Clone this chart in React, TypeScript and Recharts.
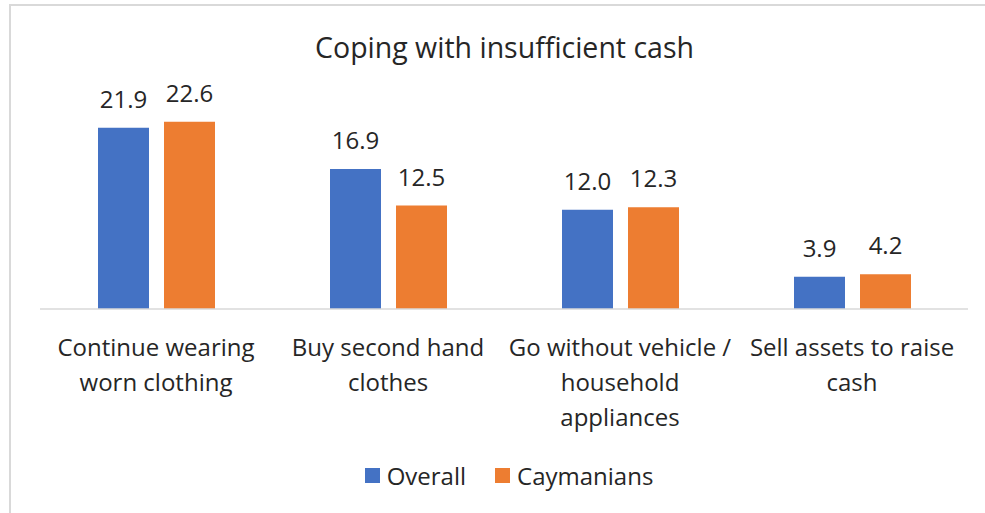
import React from 'react';
import { BarChart, Bar, XAxis, YAxis, Legend, LabelList } from 'recharts';

const title = 'Coping with insufficient cash';
const categories = [
  'Continue wearing worn clothing',
  'Buy second hand clothes',
  'Go without vehicle / household appliances',
  'Sell assets to raise cash',
];
const tickLines: string[][] = [
  ['Continue wearing', 'worn clothing'],
  ['Buy second hand', 'clothes'],
  ['Go without vehicle /', 'household', 'appliances'],
  ['Sell assets to raise', 'cash'],
];
const seriesNames = ['Overall', 'Caymanians'];
const overall = [21.9, 16.9, 12.0, 3.9];
const caymanians = [22.6, 12.5, 12.3, 4.2];

const COLORS = ['#4472C4', '#ED7D31'];
const FONT = '"Open Sans", Lato, sans-serif';
const TEXT = '#262626';

const data = categories.map((c, i) => ({
  name: c,
  overall: overall[i],
  caymanians: caymanians[i],
}));

const CategoryTick = (props: any) => {
  const { x, y, index } = props;
  const lines = tickLines[index] || [categories[index]];
  return (
    <g>
      {lines.map((l, k) => (
        <text
          key={k}
          x={x}
          y={y + 47 + k * 35}
          textAnchor="middle"
          fontFamily={FONT}
          fontSize={24}
          fill={TEXT}
        >
          {l}
        </text>
      ))}
    </g>
  );
};

const LegendContent = () => (
  <div
    style={{
      display: 'flex',
      justifyContent: 'center',
      alignItems: 'center',
      height: 40,
      fontFamily: FONT,
      fontSize: 24,
      color: TEXT,
      paddingLeft: 10,
    }}
  >
    {seriesNames.map((n, i) => (
      <div key={n} style={{ display: 'flex', alignItems: 'center', marginRight: i === 0 ? 29 : 0 }}>
        <span style={{ width: 15, height: 15, background: COLORS[i], display: 'inline-block', marginRight: 7 }} />
        <span>{n}</span>
      </div>
    ))}
  </div>
);

export default function App() {
  return (
    <div style={{ position: 'absolute', left: 0, top: 0, width: 985, height: 513, background: '#fff' }}>
      <div
        style={{
          position: 'absolute',
          left: 9,
          top: 4,
          width: 976,
          height: 509,
          borderTop: '2px solid #d9d9d9',
          borderLeft: '2px solid #d9d9d9',
          boxSizing: 'border-box',
        }}
      />
      <div
        style={{
          position: 'absolute',
          left: 0,
          width: 1009,
          top: 30,
          textAlign: 'center',
          fontFamily: FONT,
          fontSize: 28.5,
          color: TEXT,
          lineHeight: '34px',
          whiteSpace: 'nowrap',
        }}
      >
        {title}
      </div>
      <div style={{ position: 'absolute', left: 0, top: 0 }}>
        <BarChart
          width={985}
          height={513}
          data={data}
          margin={{ top: 102, right: 17, left: 40, bottom: 18 }}
          barSize={51}
          barGap={15}
        >
          <XAxis
            dataKey="name"
            axisLine={{ stroke: '#d9d9d9', strokeWidth: 1.5 }}
            tickLine={false}
            tickSize={0}
            tickMargin={0}
            height={146}
            interval={0}
            tick={<CategoryTick />}
          />
          <YAxis hide domain={[0, 25]} />
          <Legend
            verticalAlign="bottom"
            content={<LegendContent />}
            wrapperStyle={{ height: 40 }}
          />
          <Bar dataKey="overall" name={seriesNames[0]} fill={COLORS[0]} isAnimationActive={false}>
            <LabelList
              dataKey="overall"
              position="top"
              offset={20}
              formatter={(v: any) => Number(v).toFixed(1)}
              style={{ fontFamily: FONT, fontSize: 24, fill: TEXT }}
            />
          </Bar>
          <Bar dataKey="caymanians" name={seriesNames[1]} fill={COLORS[1]} isAnimationActive={false}>
            <LabelList
              dataKey="caymanians"
              position="top"
              offset={20}
              formatter={(v: any) => Number(v).toFixed(1)}
              style={{ fontFamily: FONT, fontSize: 24, fill: TEXT }}
            />
          </Bar>
        </BarChart>
      </div>
    </div>
  );
}
